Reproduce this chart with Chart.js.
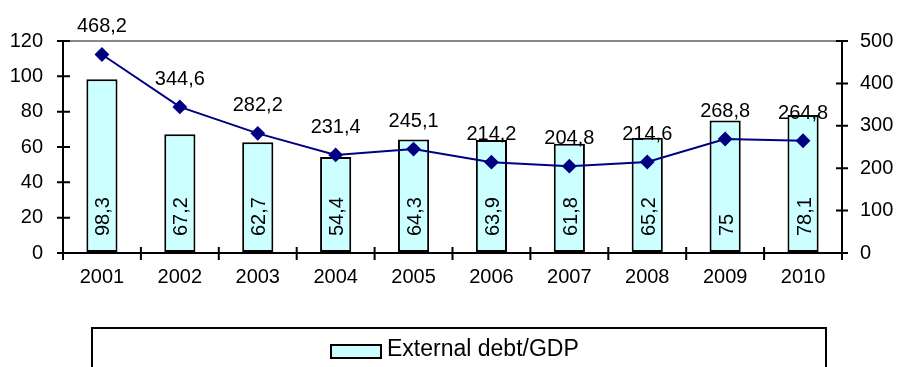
<!DOCTYPE html>
<html>
<head>
<meta charset="utf-8">
<script src="https://cdn.jsdelivr.net/npm/chart.js@4.4.1/dist/chart.umd.min.js"></script>
<style>
  body { margin: 0; background: #fff; }
  canvas { display: block; }
</style>
</head>
<body>
<canvas id="debt-chart" width="898" height="367"></canvas>
<script>
var years = ["2001", "2002", "2003", "2004", "2005", "2006", "2007", "2008", "2009", "2010"];
var debtToGdp = [98.3, 67.2, 62.7, 54.4, 64.3, 63.9, 61.8, 65.2, 75, 78.1];
var debtToExports = [468.2, 344.6, 282.2, 231.4, 245.1, 214.2, 204.8, 214.6, 268.8, 264.8];
var leftTicks = [0, 20, 40, 60, 80, 100, 120];
var rightTicks = [0, 100, 200, 300, 400, 500];

var FONT = "'Liberation Sans', Arial, sans-serif";

function fmt(v) {
    return String(v).replace('.', ',');
}

// value labels, tick marks across the axes and the legend box
var extras = {
    id: 'extras',
    afterDatasetsDraw: function(chart) {
        var ctx = chart.ctx;
        ctx.save();
        ctx.fillStyle = '#000';
        ctx.font = '20px ' + FONT;

        var bars = chart.getDatasetMeta(1).data;
        bars.forEach(function(bar, i) {
            ctx.save();
            ctx.translate(bar.x, bar.base - 16);
            ctx.rotate(-Math.PI / 2);
            ctx.textAlign = 'left';
            ctx.textBaseline = 'alphabetic';
            ctx.fillText(fmt(debtToGdp[i]), 0, 7.5);
            ctx.restore();
        });

        var pts = chart.getDatasetMeta(0).data;
        ctx.textAlign = 'center';
        ctx.textBaseline = 'alphabetic';
        pts.forEach(function(p, i) {
            ctx.fillText(fmt(debtToExports[i]), p.x, p.y - 22);
        });
        ctx.restore();
    },
    afterDraw: function(chart) {
        var ctx = chart.ctx;
        var area = chart.chartArea;
        var y = chart.scales.y, y2 = chart.scales.y2;
        ctx.save();
        ctx.strokeStyle = '#000';
        ctx.lineWidth = 2;
        ctx.beginPath();
        leftTicks.forEach(function(v) {
            var py = y.getPixelForValue(v);
            ctx.moveTo(area.left - 6, py);
            ctx.lineTo(area.left + 7, py);
        });
        rightTicks.forEach(function(v) {
            var py = y2.getPixelForValue(v);
            ctx.moveTo(area.right - 6, py);
            ctx.lineTo(area.right + 6, py);
        });
        var step = (area.right - area.left) / years.length;
        for (var i = 0; i <= years.length; i++) {
            var px = area.left + i * step;
            ctx.moveTo(px, area.bottom - 6);
            ctx.lineTo(px, area.bottom + 7);
        }
        ctx.stroke();

        // legend
        var ds = chart.data.datasets[1];
        ctx.lineWidth = 2;
        ctx.strokeRect(92, 328, 734, 60);
        ctx.fillStyle = ds.backgroundColor;
        ctx.fillRect(331, 345, 50, 13);
        ctx.strokeRect(331, 345, 50, 13);
        ctx.fillStyle = '#000';
        ctx.font = '23px ' + FONT;
        ctx.textAlign = 'left';
        ctx.textBaseline = 'middle';
        ctx.fillText(ds.label, 387, 350);
        ctx.restore();
    }
};

new Chart(document.getElementById("debt-chart"), {
    data: {
        labels: years,
        datasets: [
            {
                type: 'line',
                label: "External debt/Exports",
                data: debtToExports,
                yAxisID: 'y2',
                borderColor: "#000080",
                backgroundColor: "#000080",
                borderWidth: 2,
                pointStyle: 'rectRot',
                pointRadius: 6,
                pointBackgroundColor: "#000080",
                pointBorderColor: "#000080",
                tension: 0,
                order: 0
            },
            {
                type: 'bar',
                label: "External debt/GDP",
                data: debtToGdp,
                yAxisID: 'y',
                backgroundColor: "#CCFFFF",
                borderColor: "#000",
                borderWidth: 2,
                borderSkipped: false,
                barPercentage: 0.4,
                categoryPercentage: 1,
                order: 1
            }
        ]
    },
    options: {
        responsive: false,
        animation: false,
        devicePixelRatio: 1,
        layout: { padding: { top: 41, left: 0, right: 0, bottom: 0 } },
        plugins: {
            legend: { display: false },
            title: { display: false },
            tooltip: { enabled: false }
        },
        scales: {
            x: {
                offset: true,
                grid: { display: false, drawTicks: false },
                border: { color: '#000', width: 2 },
                ticks: { color: '#000', font: { family: FONT, size: 20 }, padding: 12, maxRotation: 0 },
                afterFit: function(scale) { scale.height = 114; }
            },
            y: {
                position: 'left',
                min: 0,
                max: 120,
                ticks: { stepSize: 20, color: '#000', font: { family: FONT, size: 20 }, padding: 20 },
                grid: {
                    drawTicks: false,
                    lineWidth: 2,
                    color: function(c) { return c.tick && c.tick.value === 120 ? '#888888' : 'rgba(0,0,0,0)'; }
                },
                border: { color: '#000', width: 2 },
                afterFit: function(scale) { scale.width = 63; }
            },
            y2: {
                position: 'right',
                min: 0,
                max: 500,
                ticks: { stepSize: 100, color: '#000', font: { family: FONT, size: 20 }, padding: 18 },
                grid: { display: false, drawTicks: false },
                border: { color: '#000', width: 2 },
                afterFit: function(scale) { scale.width = 56; }
            }
        }
    },
    plugins: [extras]
});
</script>
</body>
</html>
